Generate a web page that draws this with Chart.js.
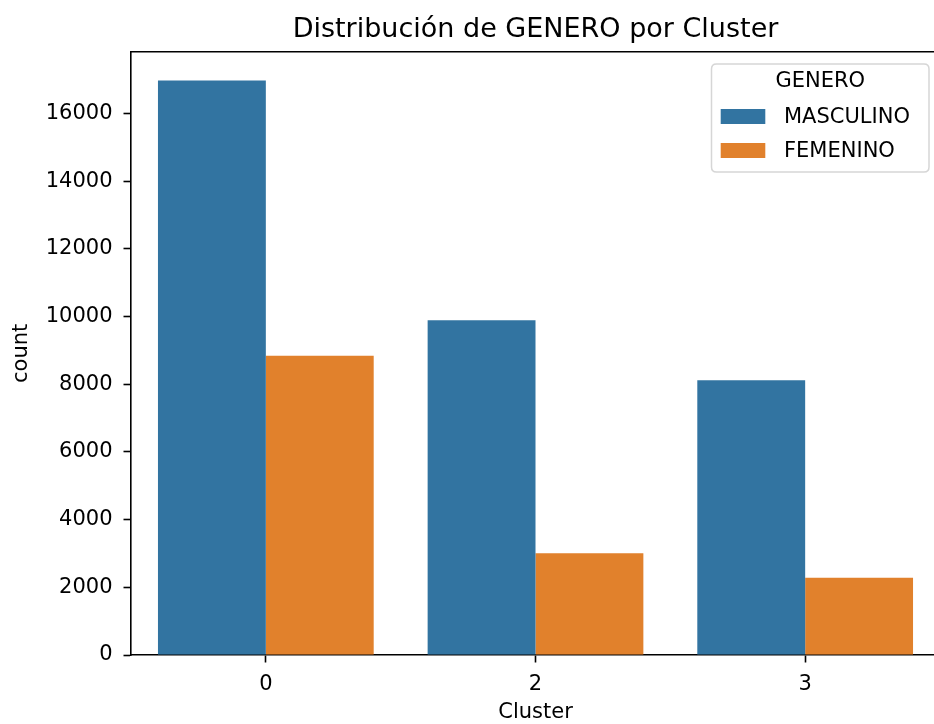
<!DOCTYPE html>
<html>
<head>
<meta charset="utf-8">
<script src="https://cdn.jsdelivr.net/npm/chart.js@4"></script>
<style>
  html, body { margin: 0; padding: 0; background: #fff; overflow: hidden; }
  #wrap { width: 934px; height: 724px; overflow: hidden; position: relative; }
  canvas { display: block; }
</style>
</head>
<body>
<div id="wrap"><canvas id="c" width="960" height="724"></canvas></div>
<script>
// ---- data ----
const categories = ['0', '2', '3'];
const masculino = [16980, 9895, 8121];
const femenino = [8840, 3007, 2286];
const seriesLabels = ['MASCULINO', 'FEMENINO'];
const yTickValues = [0, 2000, 4000, 6000, 8000, 10000, 12000, 14000, 16000];
const legendTitle = 'GENERO';
const chartTitle = 'Distribución de GENERO por Cluster';
const xTitle = 'Cluster';
const yTitle = 'count';

const FONT = "'DejaVu Sans', sans-serif";
const BLUE = '#3274a1';
const ORANGE = '#e1812c';

const yMax = Math.max(...masculino, ...femenino) * 1.05;

const framePlugin = {
  id: 'frame',
  afterDatasetsDraw(chart) {
    const { ctx, chartArea: a } = chart;
    ctx.save();
    ctx.strokeStyle = '#000';
    ctx.lineWidth = 1.6;
    ctx.beginPath();
    ctx.moveTo(a.left, a.top);
    ctx.lineTo(a.right + 10, a.top);
    ctx.stroke();
    ctx.restore();
  }
};

const titlePlugin = {
  id: 'axesTitle',
  afterDraw(chart) {
    const { ctx, chartArea: a } = chart;
    ctx.save();
    ctx.fillStyle = '#000';
    ctx.font = '27px ' + FONT;
    ctx.textAlign = 'center';
    ctx.textBaseline = 'middle';
    ctx.fillText(chartTitle, (a.left + a.right) / 2, 30);
    ctx.restore();
  }
};

const legendPlugin = {
  id: 'boxLegend',
  afterDraw(chart) {
    const { ctx } = chart;
    const x0 = 711.5, y0 = 64, w = 217.5, h = 108, r = 5;
    ctx.save();
    ctx.beginPath();
    ctx.moveTo(x0 + r, y0);
    ctx.lineTo(x0 + w - r, y0);
    ctx.quadraticCurveTo(x0 + w, y0, x0 + w, y0 + r);
    ctx.lineTo(x0 + w, y0 + h - r);
    ctx.quadraticCurveTo(x0 + w, y0 + h, x0 + w - r, y0 + h);
    ctx.lineTo(x0 + r, y0 + h);
    ctx.quadraticCurveTo(x0, y0 + h, x0, y0 + h - r);
    ctx.lineTo(x0, y0 + r);
    ctx.quadraticCurveTo(x0, y0, x0 + r, y0);
    ctx.closePath();
    ctx.fillStyle = 'rgba(255,255,255,0.8)';
    ctx.fill();
    ctx.strokeStyle = '#d6d6d6';
    ctx.lineWidth = 1.5;
    ctx.stroke();

    ctx.fillStyle = '#000';
    ctx.font = '21px ' + FONT;
    ctx.textBaseline = 'middle';
    ctx.textAlign = 'center';
    ctx.fillText(legendTitle, x0 + w / 2, 82);

    ctx.textAlign = 'left';
    chart.data.datasets.forEach((ds, i) => {
      const cy = 116.5 + i * 34;
      ctx.fillStyle = ds.backgroundColor;
      ctx.fillRect(720.7, cy - 7.5, 44.6, 15);
      ctx.fillStyle = '#000';
      ctx.fillText(ds.label, 784, cy + 1);
    });
    ctx.restore();
  }
};

new Chart(document.getElementById('c'), {
  type: 'bar',
  data: {
    labels: categories,
    datasets: [
      { label: seriesLabels[0], data: masculino, backgroundColor: BLUE, borderWidth: 0 },
      { label: seriesLabels[1], data: femenino, backgroundColor: ORANGE, borderWidth: 0 }
    ]
  },
  options: {
    responsive: false,
    animation: false,
    devicePixelRatio: 1,
    layout: { padding: { left: 0, right: 20, top: 51.7, bottom: 0 } },
    datasets: { bar: { categoryPercentage: 0.8, barPercentage: 1.0 } },
    plugins: {
      legend: { display: false },
      tooltip: { enabled: false },
      title: { display: false }
    },
    scales: {
      x: {
        offset: true,
        grid: { display: true, drawOnChartArea: false, drawTicks: true, offset: false,
                tickLength: 7.5, tickWidth: 1.6, tickColor: '#000' },
        border: { display: true, color: '#000', width: 1.6 },
        ticks: { color: '#000', font: { family: FONT, size: 21 }, padding: 9 },
        title: { display: true, text: xTitle, color: '#000',
                 font: { family: FONT, size: 21, lineHeight: 1.1 }, padding: { top: 0, bottom: 0 } },
        afterFit(scale) { scale.height = 69; }
      },
      y: {
        min: 0,
        max: yMax,
        grid: { display: true, drawOnChartArea: false, drawTicks: true,
                tickLength: 7.5, tickWidth: 1.6, tickColor: '#000' },
        border: { display: true, color: '#000', width: 1.6 },
        ticks: { color: '#000', font: { family: FONT, size: 21 }, padding: 11,
                 callback: (v) => String(v) },
        afterBuildTicks(scale) { scale.ticks = yTickValues.map(v => ({ value: v })); },
        title: { display: true, text: yTitle, color: '#000',
                 font: { family: FONT, size: 21 }, padding: { top: 9, bottom: 0 } },
        afterFit(scale) { scale.width = 131; }
      }
    }
  },
  plugins: [framePlugin, titlePlugin, legendPlugin]
});
</script>
</body>
</html>
